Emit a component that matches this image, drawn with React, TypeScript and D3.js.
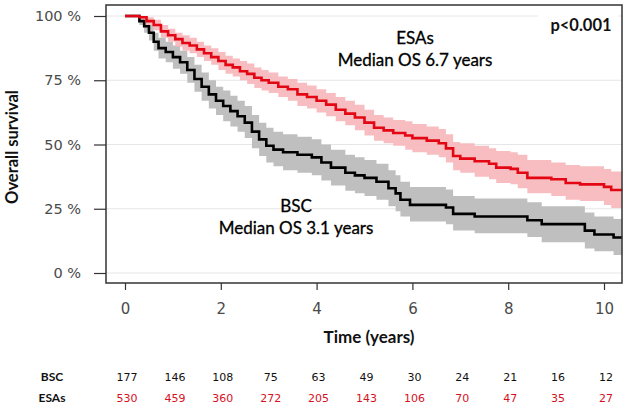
import React, { useRef, useEffect } from 'react';
import * as d3 from 'd3';

// ESAs arm: time (years), survival %, lower / upper CI
const esaTime = [0, 0.3, 0.45, 0.6, 0.75, 0.9, 1.05, 1.2, 1.35, 1.5, 1.65, 1.8, 1.95, 2.1, 2.25, 2.4, 2.55, 2.7, 2.85, 3.0, 3.2, 3.4, 3.6, 3.8, 4.0, 4.2, 4.4, 4.6, 4.8, 5.0, 5.2, 5.4, 5.6, 5.85, 6.0, 6.3, 6.55, 6.7, 6.85, 7.0, 7.3, 7.6, 7.75, 8.05, 8.2, 8.4, 8.9, 9.2, 9.5, 10.0, 10.15];
const esaSurv = [100, 99.5, 98, 96.5, 94, 92.5, 91, 89.5, 88.5, 87, 85.5, 84, 82.5, 81, 80, 78.5, 77.5, 76, 75, 74, 72.5, 71.5, 69.5, 68.5, 67, 65.5, 63.5, 62, 60.5, 58.5, 56.5, 55.5, 54.5, 53.5, 52.5, 51.5, 50.5, 48.5, 45.5, 44.5, 43.5, 42.5, 41, 40.5, 39, 37, 36.5, 35, 34.5, 33.5, 32.3];
const esaLower = [100, 98.5, 96.5, 94.5, 91.5, 90, 88, 86.5, 85.5, 84, 82.5, 81, 79, 77.5, 76.5, 75, 73.5, 72, 71, 70, 68.5, 67, 65, 64, 62.5, 61, 59, 57.5, 55.5, 53.5, 51.5, 50.5, 49.5, 48, 47, 46, 45, 43, 40, 39, 37.5, 36.5, 35, 34.5, 33, 31, 30, 28.5, 28, 26.5, 25.3];
const esaUpper = [100, 100, 99.5, 98.5, 96.5, 95, 93.5, 92.5, 91.5, 90, 88.5, 87.5, 86, 84.5, 83.5, 82.5, 81.5, 80, 79, 78, 76.5, 75.5, 74, 73, 71.5, 70, 68.5, 67, 65.5, 63.5, 61.5, 60.5, 59.5, 59, 58, 57, 56, 54, 51, 50.5, 49.5, 48.5, 47.5, 47, 46, 44, 43, 42, 41.5, 40.5, 39.5];

// BSC arm
const bscTime = [0, 0.3, 0.4, 0.5, 0.6, 0.7, 0.85, 1.0, 1.15, 1.3, 1.45, 1.6, 1.75, 1.9, 2.05, 2.2, 2.35, 2.5, 2.65, 2.8, 2.95, 3.1, 3.3, 3.6, 3.9, 4.1, 4.3, 4.6, 4.8, 5.0, 5.25, 5.5, 5.65, 5.75, 5.95, 6.7, 6.85, 7.3, 8.4, 8.7, 9.6, 9.8, 10.2];
const bscSurv = [100, 98, 96, 93.5, 90, 87.5, 86, 84, 82, 79, 75.5, 72.5, 69.5, 67, 65, 63, 61, 58.5, 55, 52, 49.5, 48, 47, 46, 45, 43, 41, 39, 38, 37, 35.5, 33, 31, 28.5, 26.5, 25.5, 23, 22, 20.5, 19, 16.5, 15, 13.8];
const bscLower = [100, 96.5, 93.5, 90.5, 86.5, 83.5, 82, 79.5, 77.5, 74, 70.5, 67, 64, 61.5, 59, 57, 55, 52.5, 48.5, 45.5, 43, 41.5, 40, 39, 38, 36, 34, 32, 31, 30, 28.5, 26, 24, 22, 20, 19, 16.5, 15.5, 14, 12, 9.5, 8.5, 7];
const bscUpper = [100, 99.5, 98.5, 96.5, 93.5, 91.5, 90, 88.5, 86.5, 84, 81, 78, 75, 72.5, 71, 69, 67, 65, 61.5, 58.5, 56.5, 55, 54, 53, 52, 50, 48, 46, 45, 44, 42.5, 40, 38, 35.5, 33.5, 32.5, 30, 29, 27.5, 26, 23.5, 22, 21];

const xTicks = [0, 2, 4, 6, 8, 10];
const yTicks = [0, 25, 50, 75, 100];
const riskYears = [0, 1, 2, 3, 4, 5, 6, 7, 8, 9, 10];
const bscRisk = [177, 146, 108, 75, 63, 49, 30, 24, 21, 16, 12];
const esaRisk = [530, 459, 360, 272, 205, 143, 106, 70, 47, 35, 27];

const W = 631;
const H = 413;
const TMAX = 10.38;

const KMChart = () => {
  const svgRef = useRef(null);

  useEffect(() => {
    const svg = d3.select(svgRef.current);
    svg.selectAll('*').remove();

    const box = { left: 106, right: 622, top: 5, bottom: 283 };

    const x = d3.scaleLinear().domain([0, 10]).range([125, 604]);
    const y = d3.scaleLinear().domain([0, 100]).range([273, 16]);

    // gridlines
    svg.append('g')
      .selectAll('line')
      .data(yTicks)
      .join('line')
      .attr('x1', box.left)
      .attr('x2', box.right)
      .attr('y1', d => y(d))
      .attr('y2', d => y(d))
      .attr('stroke', '#e6e6e6')
      .attr('stroke-width', 1);

    const toRows = (t, s, lo, hi) => {
      const rows = t.map((tt, i) => ({ t: tt, s: s[i], lo: lo[i], hi: hi[i] }));
      const last = rows[rows.length - 1];
      rows.push({ ...last, t: TMAX });
      return rows;
    };

    const esa = toRows(esaTime, esaSurv, esaLower, esaUpper);
    const bsc = toRows(bscTime, bscSurv, bscLower, bscUpper);

    const band = d3.area()
      .curve(d3.curveStepAfter)
      .x(d => x(d.t))
      .y0(d => y(d.lo))
      .y1(d => y(d.hi));

    const line = d3.line()
      .curve(d3.curveStepAfter)
      .x(d => x(d.t))
      .y(d => y(d.s));

    const plot = svg.append('g');

    plot.append('path').datum(bsc).attr('d', band).attr('fill', '#bfbfbf');
    plot.append('path').datum(esa).attr('d', band).attr('fill', '#f7b6b9').attr('fill-opacity', 0.9);

    plot.append('path').datum(bsc).attr('d', line)
      .attr('fill', 'none').attr('stroke', '#000').attr('stroke-width', 2.6);
    plot.append('path').datum(esa).attr('d', line)
      .attr('fill', 'none').attr('stroke', '#e30613').attr('stroke-width', 2.6);

    // frame
    svg.append('rect')
      .attr('x', box.left)
      .attr('y', box.top)
      .attr('width', box.right - box.left)
      .attr('height', box.bottom - box.top)
      .attr('fill', 'none')
      .attr('stroke', '#333')
      .attr('stroke-width', 1.5);

    const tickFont = 'DejaVu Sans, Verdana, sans-serif';

    // y axis
    const yAxis = svg.append('g')
      .attr('transform', `translate(${box.left},0)`)
      .call(d3.axisLeft(y).tickValues(yTicks).tickSize(12).tickPadding(13).tickFormat(d => `${d} %`));
    yAxis.select('.domain').remove();
    yAxis.selectAll('line').attr('stroke', '#333').attr('stroke-width', 1.2);
    yAxis.selectAll('text')
      .attr('fill', '#4a4a4a')
      .style('font-family', tickFont)
      .style('font-size', '14.5px');

    // x axis
    const xAxis = svg.append('g')
      .attr('transform', `translate(0,${box.bottom})`)
      .call(d3.axisBottom(x).tickValues(xTicks).tickSize(7).tickPadding(13));
    xAxis.select('.domain').remove();
    xAxis.selectAll('line').attr('stroke', '#333').attr('stroke-width', 1.2);
    xAxis.selectAll('text')
      .attr('fill', '#4a4a4a')
      .style('font-family', tickFont)
      .style('font-size', '15px');

    const ann = 'Lato, sans-serif';

    // axis labels
    svg.append('text')
      .attr('x', 369)
      .attr('y', 343)
      .attr('text-anchor', 'middle')
      .style('font-family', ann)
      .style('font-weight', 'bold')
      .style('font-size', '17px')
      .attr('fill', '#111')
      .text('Time (years)');

    svg.append('text')
      .attr('transform', 'rotate(-90)')
      .attr('x', -147)
      .attr('y', 18)
      .attr('text-anchor', 'middle')
      .style('font-family', ann)
      .style('font-weight', 'bold')
      .style('font-size', '16.5px')
      .attr('fill', '#111')
      .text('Overall survival');

    // p value box
    svg.append('rect').attr('x', 538).attr('y', 12).attr('width', 80).attr('height', 24).attr('fill', '#fff');
    svg.append('text')
      .attr('x', 581)
      .attr('y', 31)
      .attr('text-anchor', 'middle')
      .style('font-family', ann)
      .style('font-weight', 'bold')
      .style('font-size', '16.5px')
      .attr('fill', '#111')
      .text('p<0.001');

    // group annotations
    const notes = [
      { text: 'ESAs', x: 415, y: 44 },
      { text: 'Median OS 6.7 years', x: 415, y: 66 },
      { text: 'BSC', x: 296, y: 212 },
      { text: 'Median OS 3.1 years', x: 296, y: 234 },
    ];
    svg.append('g')
      .selectAll('text')
      .data(notes)
      .join('text')
      .attr('x', d => d.x)
      .attr('y', d => d.y)
      .attr('text-anchor', 'middle')
      .style('font-family', ann)
      .style('font-size', '17px')
      .attr('fill', '#000')
      .attr('stroke', '#000')
      .attr('stroke-width', 0.3)
      .text(d => d.text);

    // numbers at risk
    const riskRows = [
      { label: 'BSC', values: bscRisk, color: '#111', y: 381 },
      { label: 'ESAs', values: esaRisk, color: '#d7101e', y: 402 },
    ];
    riskRows.forEach(row => {
      svg.append('text')
        .attr('x', 52)
        .attr('y', row.y)
        .attr('text-anchor', 'middle')
        .style('font-family', ann)
        .style('font-weight', 'bold')
        .style('font-size', '12px')
        .attr('fill', '#111')
        .text(row.label);

      svg.append('g')
        .selectAll('text')
        .data(row.values)
        .join('text')
        .attr('x', (d, i) => x(riskYears[i]) + 2)
        .attr('y', row.y)
        .attr('text-anchor', 'middle')
        .style('font-family', tickFont)
        .style('font-size', '11px')
        .attr('fill', row.color)
        .text(d => d);
    });
  }, []);

  return <svg ref={svgRef} width={W} height={H} style={{ display: 'block', background: '#fff' }}></svg>;
};

export default function App() {
  return (
    <div style={{ position: 'absolute', left: 0, top: 0, width: W, height: H, background: '#fff' }}>
      <KMChart />
    </div>
  );
}
